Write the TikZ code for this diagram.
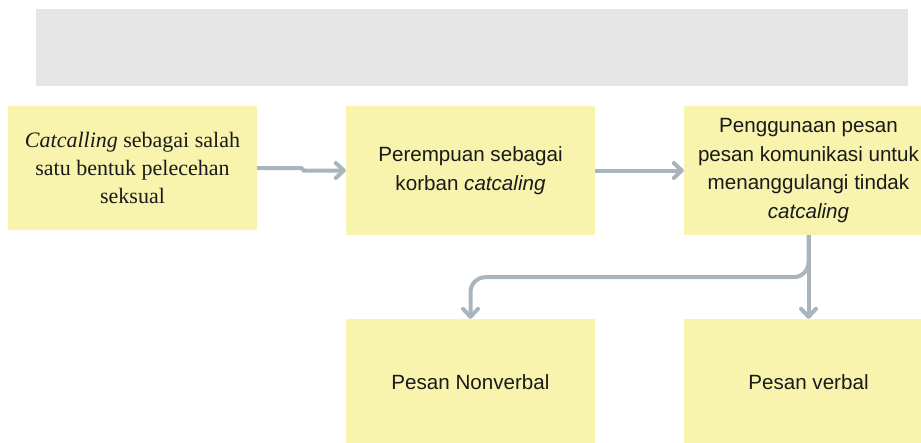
\documentclass[tikz,border=0pt]{standalone}
\usepackage{fontspec}
\setmainfont{Liberation Sans}
\newfontfamily\serifbox{Liberation Serif}
\usetikzlibrary{arrows.meta}

\begin{document}
\begin{tikzpicture}[x=1pt,y=-1pt,
    box/.style={fill={rgb,255:red,248; green,243; blue,173}, minimum width=249pt, minimum height=129pt,
        inner sep=0pt, align=center, text={rgb,255:red,26; green,26; blue,26},
        font=\fontsize{20.6}{28.5}\selectfont},
    conn/.style={draw={rgb,255:red,169; green,180; blue,189}, line width=4pt,
        -{Straight Barb[length=8pt,width=15pt,round]}}]
    \useasboundingbox (0,0) rectangle (921,442);
    \clip (0,0) rectangle (921,442);
    \node[fill={rgb,255:red,229; green,229; blue,229}, minimum width=872pt, minimum height=77pt] (banner) at (472,47.5) {};

    \node[box, minimum height=124pt, font=\serifbox\fontsize{22}{28}\selectfont] (cat) at (132.5,168) {\textit{Catcalling} sebagai salah\\satu bentuk pelecehan\\seksual};
    \node[box] (korban) at (470.5,170.5) {Perempuan sebagai\\korban \textit{catcaling}};
    \node[box] (pesan) at (808.5,170.5) {Penggunaan pesan\\pesan komunikasi untuk\\menanggulangi tindak\\\textit{catcaling}};
    \node[box, minimum height=126pt] (nonverbal) at (470.5,382) {Pesan Nonverbal};
    \node[box, minimum height=126pt] (verbal) at (808.5,382) {Pesan verbal};

    \draw[conn] (cat.east) -- ([xshift=44pt]cat.east) -- ([xshift=-42pt]korban.west) -- (korban.west);
    \draw[conn] (korban.east) -- (pesan.west);
    \draw[conn] (pesan.south) -- (verbal.north);
    \draw[conn, rounded corners=15pt] (pesan.south) -- ++(0,42) -| (nonverbal.north);

\end{tikzpicture}
\end{document}
